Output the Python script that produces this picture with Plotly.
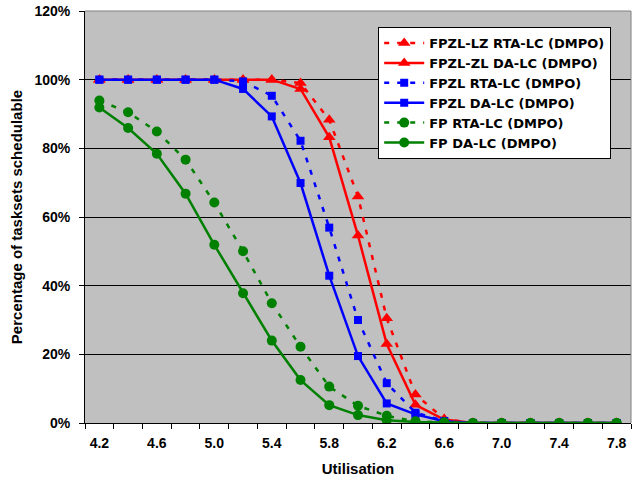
import plotly.graph_objects as go

utilisation = [4.2, 4.4, 4.6, 4.8, 5.0, 5.2, 5.4, 5.6, 5.8, 6.0, 6.2, 6.4, 6.6, 6.8, 7.0, 7.2, 7.4, 7.6, 7.8]

fpzl_lz_rta = [100, 100, 100, 100, 100, 100, 100, 99, 88.3, 66, 30.5, 8.3, 1.2, 0, 0, 0, 0, 0, 0]
fpzl_zl_da = [100, 100, 100, 100, 100, 100, 100, 97.3, 83.2, 54.6, 23, 5.3, 1, 0, 0, 0, 0, 0, 0]
fpzl_rta = [100, 100, 100, 100, 100, 99.5, 95.3, 82.2, 56.9, 30, 11.6, 3, 0.6, 0, 0, 0, 0, 0, 0]
fpzl_da = [100, 100, 100, 100, 100, 97.3, 89.3, 69.9, 42.9, 19.5, 5.7, 2.5, 0.5, 0, 0, 0, 0, 0, 0]
fp_rta = [93.9, 90.5, 84.9, 76.7, 64.2, 50, 34.9, 22.2, 10.6, 5, 2.1, 0.5, 0.2, 0, 0, 0, 0, 0, 0]
fp_da = [91.9, 85.9, 78.4, 66.8, 51.9, 37.8, 24, 12.5, 5.2, 2.3, 0.8, 0.3, 0.1, 0, 0, 0, 0, 0, 0]

tick_labels = [4.2, 4.6, 5.0, 5.4, 5.8, 6.2, 6.6, 7.0, 7.4, 7.8]
y_ticks = [0, 20, 40, 60, 80, 100, 120]

series = [
    ("FPZL-LZ RTA-LC (DMPO)", fpzl_lz_rta, "#FF0000", "triangle-up", 11, "5px,8px"),
    ("FPZL-ZL DA-LC (DMPO)", fpzl_zl_da, "#FF0000", "triangle-up", 11, "solid"),
    ("FPZL RTA-LC (DMPO)", fpzl_rta, "#0000FF", "square", 8, "5px,8px"),
    ("FPZL DA-LC (DMPO)", fpzl_da, "#0000FF", "square", 8, "solid"),
    ("FP RTA-LC (DMPO)", fp_rta, "#008000", "circle", 10, "5px,8px"),
    ("FP DA-LC (DMPO)", fp_da, "#008000", "circle", 10, "solid"),
]

FONT = "Liberation Sans, Arial, sans-serif"

fig = go.Figure()
for name, vals, color, sym, size, dash in series:
    fig.add_trace(go.Scatter(
        x=utilisation, y=vals, name=name, mode="lines+markers",
        line=dict(color=color, width=2.5, dash=dash),
        marker=dict(symbol=sym, size=size, color=color, line=dict(width=0)),
    ))

fig.update_layout(
    width=641, height=482,
    margin=dict(l=85, r=10, t=11, b=59, autoexpand=False),
    paper_bgcolor="white",
    plot_bgcolor="#C0C0C0",
    font=dict(family=FONT, color="black", size=14),
    showlegend=True,
    legend=dict(
        x=0.537, y=0.961, xanchor="left", yanchor="top",
        bgcolor="white", bordercolor="black", borderwidth=1,
        font=dict(family="DejaVu Sans, sans-serif", size=13, color="black", weight="bold"),
        tracegroupgap=0, itemwidth=40,
    ),
    xaxis=dict(
        range=[4.1, 7.9],
        tickvals=tick_labels,
        ticktext=[f"{v:.1f}" for v in tick_labels],
        ticks="",
        tickfont=dict(family=FONT, size=14, weight="bold"),
        ticklabelstandoff=7,
        minor=dict(ticks="outside", ticklen=5, tickcolor="black", tick0=4.1, dtick=0.2, showgrid=False),
        showgrid=False,
        showline=True, linecolor="black", linewidth=1,
        zeroline=False, automargin=False,
        title=dict(text="Utilisation", font=dict(family=FONT, size=15, weight="bold"), standoff=13),
    ),
    yaxis=dict(
        range=[0, 120],
        tickvals=y_ticks,
        ticktext=[f"{v}%" for v in y_ticks],
        ticks="outside", ticklen=5, tickcolor="black",
        tickfont=dict(family=FONT, size=14, weight="bold"),
        ticklabelstandoff=6,
        showgrid=True, gridcolor="black", gridwidth=1,
        showline=True, linecolor="black", linewidth=1,
        zeroline=False, automargin=False,
        title=dict(text="Percentage of tasksets schedulable", font=dict(family=FONT, size=15, weight="bold"), standoff=8),
    ),
)

# plot-area border (top and right) in grey
fig.add_shape(type="line", xref="paper", yref="paper", x0=0, x1=1, y0=1, y1=1,
              line=dict(color="#808080", width=1), layer="above")
fig.add_shape(type="line", xref="paper", yref="paper", x0=1, x1=1, y0=0, y1=1,
              line=dict(color="#808080", width=1), layer="above")

fig.write_html("out.html")
